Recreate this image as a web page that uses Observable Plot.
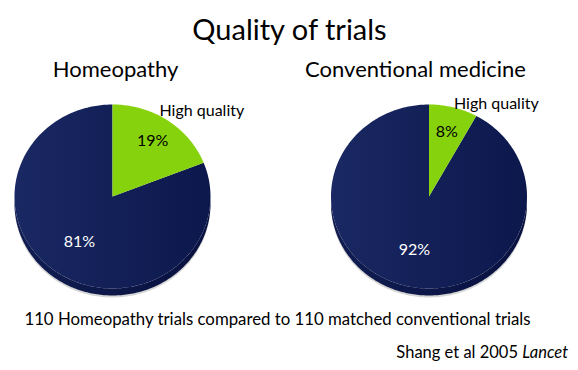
<!DOCTYPE html>
<html>
<head>
<meta charset="utf-8">
<script src="https://cdn.jsdelivr.net/npm/d3@7"></script>
<script src="https://cdn.jsdelivr.net/npm/@observablehq/plot@0.6"></script>
<style>
  html, body { margin: 0; padding: 0; background: #fff; }
  svg text { font-family: Lato, "Open Sans", sans-serif; }
</style>
</head>
<body>
<div id="chart"></div>
<script>
// ---- data ----
const groups = ["Homeopathy", "Conventional medicine"];
const highQuality = [19, 8];       // % high quality trials
const otherQuality = [81, 92];     // % remaining trials
const sliceName = "High quality";
const title = "Quality of trials";
const note = "110 Homeopathy trials compared to 110 matched conventional trials";
const sourceText = "Shang et al 2005 ";
const sourceJournal = "Lancet";

// ---- layout ----
const W = 578, H = 370;
const pieCx = [112, 428.5];
const pieCy = 196;
const RX = 98, RY = 92, DEPTH = 7;
const green = "#86d20c";

function pt(cx, cy, deg, k = 1) {
  const t = deg * Math.PI / 180;
  return {x: cx + k * RX * Math.sin(t), y: cy - k * RY * Math.cos(t)};
}
function wedge(cx, cy, a0, a1, key) {
  const pts = [{x: cx, y: cy, key}];
  const n = Math.max(2, Math.ceil(a1 - a0));
  for (let i = 0; i <= n; i++) pts.push({...pt(cx, cy, a0 + (a1 - a0) * i / n), key});
  pts.push({x: cx, y: cy, key});
  return pts;
}
function side(cx, cy, key, off) {
  const pts = [];
  for (let a = 90; a <= 270; a++) pts.push({...pt(cx, cy + off, a), key});
  for (let a = 270; a >= 90; a--) pts.push({...pt(cx, cy, a), key});
  return pts;
}

const greenPts = [], navyPts = [], sidePts = [], shadowPts = [], pctLabels = [];
groups.forEach((g, i) => {
  const cx = pieCx[i];
  const a = highQuality[i] / (highQuality[i] + otherQuality[i]) * 360;
  greenPts.push(...wedge(cx, pieCy, 0, a, g + "-hq"));
  navyPts.push(...wedge(cx, pieCy, a, 360, g + "-o"));
  sidePts.push(...side(cx, pieCy, g + "-s", DEPTH));
  shadowPts.push(...side(cx, pieCy, g + "-sh", DEPTH + 2));
  pctLabels.push({...pt(cx, pieCy, a / 2, 0.73), t: highQuality[i] + "%", fill: "#000"});
  pctLabels.push({...pt(cx, pieCy, (a + 360) / 2, 0.6), t: otherQuality[i] + "%", fill: "#fff"});
});

const defs = () => {
  const d = d3.create("svg:defs");
  const lg = d.append("linearGradient").attr("id", "navyGrad").attr("x1", "0").attr("x2", "1").attr("y1", "0").attr("y2", "0");
  lg.append("stop").attr("offset", "0").attr("stop-color", "#1a2863");
  lg.append("stop").attr("offset", "1").attr("stop-color", "#0c184c");
  const sg = d.append("linearGradient").attr("id", "sideGrad").attr("x1", "0").attr("x2", "1").attr("y1", "0").attr("y2", "0");
  sg.append("stop").attr("offset", "0").attr("stop-color", "#111d52");
  sg.append("stop").attr("offset", "1").attr("stop-color", "#08113f");
  return d.node();
};

const chart = Plot.plot({
  width: W, height: H,
  margin: 0,
  x: {domain: [0, W], range: [0, W], axis: null},
  y: {domain: [0, H], range: [0, H], axis: null},
  marks: [
    defs,
    Plot.line(shadowPts, {x: "x", y: "y", z: "key", fill: "#d6d6d6", stroke: "none"}),
    Plot.line(sidePts, {x: "x", y: "y", z: "key", fill: "url(#sideGrad)", stroke: "none"}),
    Plot.line(navyPts, {x: "x", y: "y", z: "key", fill: "url(#navyGrad)", stroke: "none"}),
    Plot.line(greenPts, {x: "x", y: "y", z: "key", fill: green, stroke: "none"}),
    Plot.text(pctLabels, {x: "x", y: "y", text: "t", fill: "fill", fontSize: 16}),
    Plot.text([title], {x: W / 2, y: 30, text: d => d, fontSize: 29, fill: "#000"}),
    Plot.text(groups, {x: (d, i) => [115, 415][i], y: 69, text: d => d, fontSize: 22, fill: "#000"}),
    Plot.text(groups.map((g, i) => ({i})), {x: d => pieCx[d.i] + [47, 25][d.i], y: d => [110, 103][d.i], text: () => sliceName, textAnchor: "start", fontSize: 16, fill: "#000"}),
    Plot.text([note], {x: 277, y: 319, text: d => d, fontSize: 16.8, fill: "#000"}),
  ]
});

// Source line with italic journal name
const svg = d3.select(chart);
const src = svg.append("text").attr("x", 568).attr("y", 358).attr("text-anchor", "end")
  .attr("font-size", 16.5).attr("fill", "#000");
src.append("tspan").text(sourceText);
src.append("tspan").attr("font-style", "italic").text(sourceJournal);

document.getElementById("chart").append(chart);
</script>
</body>
</html>
